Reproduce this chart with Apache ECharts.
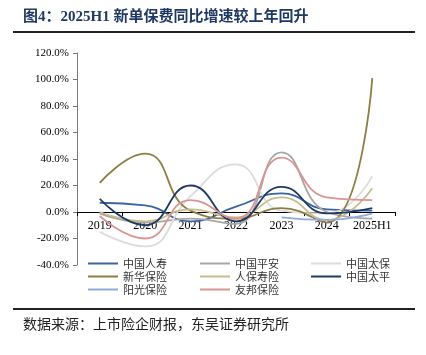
<!DOCTYPE html>
<html><head><meta charset="utf-8">
<script src="https://cdn.jsdelivr.net/npm/echarts@6/dist/echarts.min.js"></script>
<style>html,body{margin:0;padding:0;background:#fff}#c{width:426px;height:355px}</style>
</head><body><div id="c"></div>
<script>
const categories = ['2019','2020','2021','2022','2023','2024','2025H1'];
const yTicks = [-40,-20,0,20,40,60,80,100,120];
const chinaLife   = [7, 5, -7, 4, 14, 2, 1];
const pingAn      = [-1, -8, -5, -9, 45, 0, -5];
const cpic        = [-15, -26, 12, 36, 1, -1, 27];
const newChina    = [22, 44, 1, -5, 3, -8, 101];
const piccLife    = [0, -7, 2, -4, 11, -6, 18];
const taiping     = [10, -10, 20, -7, 19, -1, 3];
const sunshine    = [null, null, null, null, -4, -6, -1];
const aia         = [-3, -20, 9, -5, 41, 11, 9];

const seriesDefs = [
  ['中国人寿', chinaLife, '#3B64A0'],
  ['中国平安', pingAn, '#A6A6A6'],
  ['中国太保', cpic, '#DCDCDC'],
  ['新华保险', newChina, '#8C7E45'],
  ['人保寿险', piccLife, '#C9BC8C'],
  ['中国太平', taiping, '#1F3A60'],
  ['阳光保险', sunshine, '#8FAADC'],
  ['友邦保险', aia, '#D99594']
];

const colX = [88, 200, 311];
const rowY = [258, 271, 284];
const legends = seriesDefs.map(([n], i) => ({
  data: [n], left: colX[i % 3], top: rowY[Math.floor(i / 3)], padding: 0,
  icon: 'rect', itemWidth: 30, itemHeight: 2, itemGap: 0,
  textStyle: {fontFamily: '"Noto Sans CJK SC"', fontSize: 11, color: '#333'},
  selectedMode: false
}));

const chart = echarts.init(document.getElementById('c'), null, {renderer:'canvas'});
chart.setOption({
  animation: false,
  backgroundColor: '#fff',
  grid: {left: 77, right: 31, top: 53, bottom: 90, containLabel: false},
  xAxis: {
    type: 'category', data: categories, boundaryGap: true, position: 'bottom', offset: -53,
    axisLine: {onZero: false, lineStyle: {color: '#000', width: 1}},
    axisTick: {show: true, inside: false, length: 4, lineStyle: {color: '#000'}},
    axisLabel: {fontFamily: '"Liberation Serif"', fontSize: 12, color: '#000', margin: 8, interval: 0}
  },
  yAxis: {
    type: 'value', min: -40, max: 120, interval: 20,
    axisLine: {show: true, lineStyle: {color: '#777', width: 1}},
    axisTick: {show: true, length: 4, lineStyle: {color: '#777'}},
    splitLine: {show: false},
    axisLabel: {fontFamily: '"Liberation Serif"', fontSize: 11, color: '#000', margin: 8,
      formatter: v => v.toFixed(1) + '%'}
  },
  legend: legends,
  series: seriesDefs.map(([n, d, c]) => ({
    name: n, type: 'line', data: d, smooth: 0.5, showSymbol: false, symbol: 'none',
    connectNulls: false,
    lineStyle: {color: c, width: 1.8}, itemStyle: {color: c}
  })),
  graphic: [
    {type: 'text', left: 23, top: 10, style: {text: '图4：2025H1 新单保费同比增速较上年回升',
      font: 'bold 15px "Liberation Serif", "Noto Sans CJK SC"', fill: '#1F3864'}},
    {type: 'rect', shape: {x: 13, y: 31, width: 402, height: 2}, style: {fill: '#222'}},
    {type: 'rect', shape: {x: 13, y: 308, width: 402, height: 2}, style: {fill: '#222'}},
    {type: 'text', left: 23, top: 317, style: {text: '数据来源：上市险企财报，东吴证券研究所',
      font: '14px "Noto Sans CJK SC"', fill: '#222'}}
  ]
});
</script></body></html>
